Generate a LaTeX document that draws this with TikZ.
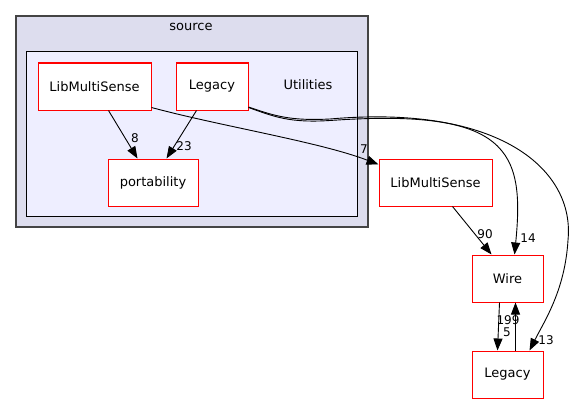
\documentclass[tikz,border=0pt]{standalone}
\usepackage{fontspec}
\setmainfont{DejaVu Sans}
\usetikzlibrary{arrows.meta}
\definecolor{outerfill}{HTML}{DDDDEE}
\definecolor{outerdraw}{HTML}{444444}
\definecolor{innerfill}{HTML}{EEEEFF}
\begin{document}
\begin{tikzpicture}[x=1pt,y=-1pt,
  dirbox/.style={draw=red,fill=white,line width=1pt,minimum height=47pt,inner sep=0pt,font=\fontsize{13}{15}\selectfont},
  dep/.style={line width=0.9pt,-{Triangle[length=12pt,width=9pt]}},
  lbl/.style={font=\fontsize{12}{14}\selectfont,inner sep=0pt}]
\useasboundingbox (0,0) rectangle (575,404);
\fill[white] (0,0) rectangle (575,404);
% clusters
\node[draw=outerdraw,fill=outerfill,line width=1.2pt,minimum width=352pt,minimum height=211pt,inner sep=0pt] (source) at (192,121.5) {};
\node[font=\fontsize{13}{15}\selectfont] (sourcelbl) at (191,27) {source};
\node[draw=black,fill=innerfill,line width=1pt,minimum width=331pt,minimum height=164pt,inner sep=0pt] (util) at (191.5,134) {};
\node[font=\fontsize{13}{15}\selectfont] (utillbl) at (308,85) {Utilities};
% nodes
\node[dirbox,minimum width=113pt] (lmsIn) at (94.5,86.5) {LibMultiSense};
\node[dirbox,minimum width=72pt] (legIn) at (212,86.5) {Legacy};
\node[dirbox,minimum width=90pt] (port) at (153,182.5) {portability};
\node[dirbox,minimum width=113pt] (lmsOut) at (435.5,182.5) {LibMultiSense};
\node[dirbox,minimum width=71pt] (wire) at (507.5,278.5) {Wire};
\node[dirbox,minimum width=71pt] (legOut) at (507.5,374.5) {Legacy};
% edges
\draw[dep] ([xshift=71pt]lmsIn.south west) -- ([xshift=30pt]port.north west);
\node[lbl] (l8) at (135,138) {8};
\draw[dep] ([xshift=21pt]legIn.south west) -- ([xshift=59pt]port.north west);
\node[lbl] (l23) at (184,146) {23};
\draw[dep] ([yshift=3pt]lmsIn.south east) .. controls (220,126) and (320,142) .. ([yshift=-6pt]lmsOut.north west);
\node[lbl] (l7) at (364,149) {7};
\draw[dep] ([yshift=3pt]legIn.south east) .. controls (275,117) and (290,123) .. (330,120.5) .. controls (508,108) and (525,150) .. ([xshift=43pt]wire.north west);
\node[lbl] (l14) at (528,238) {14};
\draw[dep] ([yshift=3.5pt]legIn.south east) .. controls (275,116) and (290,121) .. (330,119) .. controls (500,104) and (575,170) .. (568,240) .. controls (565,290) and (545,320) .. ([xshift=58pt]legOut.north west);
\node[lbl] (l13) at (546,340) {13};
\draw[dep] ([xshift=74pt]lmsOut.south west) -- ([xshift=20pt]wire.north west);
\node[lbl] (l90) at (485,234) {90};
\draw[dep] ([xshift=28pt]wire.south west) -- ([xshift=26pt]legOut.north west);
\node[lbl] (l199) at (508,320) {199};
\node[lbl] (l5) at (507,332) {5};
\draw[dep] ([xshift=44pt]legOut.north west) -- ([xshift=44pt]wire.south west);
\end{tikzpicture}
\end{document}
